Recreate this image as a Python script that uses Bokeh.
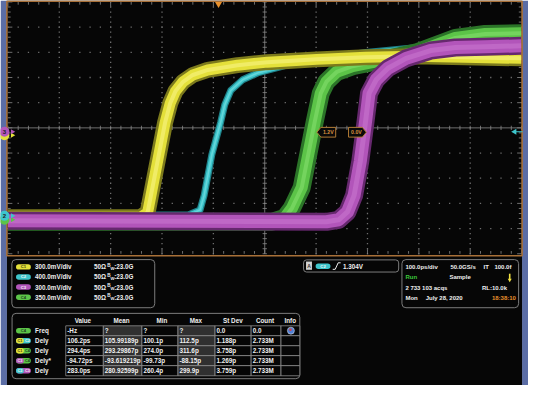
import numpy as np
from bokeh.plotting import figure
from bokeh.models import Range1d
from bokeh.core.properties import value
from bokeh.embed import file_html
from bokeh.resources import INLINE

# ---------------- waveform data (time in ps from screen centre, 100 ps/div; level in divisions) ----------------
c1_time_ps = [-500, -242, -228, -194, -184, -174, -159, -140, -111, -53, 5, 101, 197, 294, 390, 500]
c1_div = [-3.55, -3.55, -3.36, 0.21, 0.98, 1.45, 1.83, 2.10, 2.30, 2.49, 2.61, 2.72, 2.80, 2.84, 2.80, 2.76]
c2_time_ps = [-500, -149, -126, -118, -103, -86, -78, -66, -43, -14, 43, 101, 197, 313, 429, 500]
c2_div = [-3.46, -3.46, -3.26, -2.68, -1.06, 0.21, 0.91, 1.49, 1.91, 2.18, 2.49, 2.72, 2.99, 3.22, 3.42, 3.49]
c3_time_ps = [-500, 120, 144, 161, 174, 186, 196, 203, 217, 240, 275, 323, 371, 429, 500]
c3_div = [-3.69, -3.73, -3.65, -3.34, -2.68, -1.33, 0.21, 1.37, 1.91, 2.37, 2.76, 3.07, 3.19, 3.22, 3.26]
c4_time_ps = [-500, 14, 39, 53, 72, 97, 109, 120, 140, 171, 217, 294, 371, 429, 500]
c4_div = [-3.73, -3.73, -3.57, -3.19, -2.37, 0.21, 1.37, 1.83, 2.22, 2.45, 2.64, 2.99, 3.57, 3.73, 3.76]

# ---------------- readouts ----------------
channels = ["C1", "C2", "C3", "C4"]
channel_scale = ["300.0mV/div", "400.0mV/div", "300.0mV/div", "350.0mV/div"]
channel_term = ["50Ω", "50Ω", "50Ω", "50Ω"]
channel_bw = [":23.0G", ":23.0G", ":23.0G", ":23.0G"]
trigger_source = "C2"
trigger_level = "1.304V"
cursor_labels = ["1.2V", "0.0V"]
timebase_row = ["100.0ps/div", "50.0GS/s", "IT", "100.0f"]
acq_state = ["Run", "Sample"]
acq_count = ["2 733 103 acqs", "RL:10.0k"]
acq_date = ["Mon", "July 28, 2020", "18:38:10"]
meas_headers = ["Value", "Mean", "Min", "Max", "St Dev", "Count", "Info"]
meas_sources = [["C4"], ["C1", "C2"], ["C1", "C4"], ["C3", "C4"], ["C2", "C3"]]
meas_names = ["Freq", "Dely", "Dely", "Dely*", "Dely"]
meas_value = ["-Hz", "106.2ps", "294.4ps", "-94.72ps", "283.0ps"]
meas_mean = ["?", "105.99189p", "293.29867p", "-93.619219p", "280.92599p"]
meas_min = ["?", "100.1p", "274.0p", "-99.73p", "260.4p"]
meas_max = ["?", "112.5p", "311.6p", "-88.15p", "299.9p"]
meas_std = ["0.0", "1.188p", "3.758p", "1.269p", "3.759p"]
meas_count = ["0.0", "2.733M", "2.733M", "2.733M", "2.733M"]

# ---------------- styles ----------------
core = {"C1": "#e4e03a", "C2": "#3ec6cc", "C3": "#b255ba", "C4": "#5cc448"}
edge = {"C1": "#7c7a1c", "C2": "#1f8088", "C3": "#66286e", "C4": "#2b7428"}
center = {"C1": "#f0ec66", "C2": "#66d6da", "C3": "#bf68c6", "C4": "#74d45e"}
badge_text = {"C1": "#3a3a10", "C2": "#f4f4f4", "C3": "#f4f4f4", "C4": "#1e3a1e"}
FONT = value("Liberation Sans")
WHITE = "#f0f0f0"

# ---------------- layout ----------------
W, H = 528, 385
RX0, RX1, RY0, RY1 = 10.0, 544.0, 5.0, 401.0      # reference pixel window of the canvas
GX0, GX1, GY0, GY1 = 17.5, 537.0, 6.5, 265.5      # graticule within that window
ps_px = (GX1 - GX0) / 1000.0
div_px = (GY1 - GY0) / 10.0

p = figure(width=W, height=H,
           x_range=Range1d(-500 - (GX0 - RX0) / ps_px, 500 + (RX1 - GX1) / ps_px),
           y_range=Range1d(-5 - (RY1 - GY1) / div_px, 5 + (GY0 - RY0) / div_px),
           output_backend="svg", toolbar_location=None,
           x_axis_location=None, y_axis_location=None, min_border=0,
           outline_line_color=None, background_fill_color="white", border_fill_color="white")
p.grid.visible = False
p.extra_x_ranges = {"px": Range1d(RX0, RX1)}
p.extra_y_ranges = {"px": Range1d(RY1, RY0)}
PX = dict(x_range_name="px", y_range_name="px")


def txt(xs, ys, texts, color=WHITE, size=6.3, align="left", bold=True):
    p.text(x=xs, y=ys, text=texts, text_color=color, text_font=FONT,
           text_font_size=f"{size}px", text_align=align, text_baseline="middle",
           text_font_style="bold" if bold else "normal", **PX)


# background pieces
p.quad(left=[10, 537.5], right=[16.5, 544], top=[5, 5], bottom=[401, 401],
       fill_color="#5b6da5", line_color=None, **PX)
p.quad(left=[16.5], right=[537.5], top=[5], bottom=[401], fill_color="#060606", line_color=None, **PX)

# graticule dots
maj_t = np.array([t for t in range(-400, 401, 100) if t != 0])
min_t = np.arange(-500, 501, 20)
maj_v = np.array([v for v in range(-4, 5) if v != 0])
min_v = np.round(np.arange(-5, 5.001, 0.2), 3)
dot_x = np.concatenate([np.repeat(maj_t, len(min_v)), np.tile(min_t, len(maj_v))])
dot_y = np.concatenate([np.tile(min_v, len(maj_t)), np.repeat(maj_v, len(min_t))])
p.scatter(dot_x, dot_y, marker="square", size=1.3, fill_color="#6e6e6e", line_color=None)

grat = "#8a8a8a"
p.segment(x0=[-500, 0], y0=[0, -5], x1=[500, 0], y1=[0, 5], line_color=grat, line_width=0.8)
tk = 2.2
p.segment(x0=min_t, y0=-tk / div_px, x1=min_t, y1=tk / div_px, line_color=grat, line_width=0.8)
p.segment(x0=-tk / ps_px, y0=min_v, x1=tk / ps_px, y1=min_v, line_color=grat, line_width=0.8)
len_t = np.where(min_t % 100 == 0, 4.5, 2.8)
len_v = np.where(np.isclose(min_v % 1, 0) | np.isclose(min_v % 1, 1), 4.5, 2.8)
p.segment(x0=min_t, y0=5, x1=min_t, y1=5 - len_t / div_px, line_color=grat, line_width=0.8)
p.segment(x0=min_t, y0=-5, x1=min_t, y1=-5 + len_t / div_px, line_color=grat, line_width=0.8)
p.segment(x0=-500, y0=min_v, x1=-500 + len_v / ps_px, y1=min_v, line_color=grat, line_width=0.8)
p.segment(x0=500, y0=min_v, x1=500 - len_v / ps_px, y1=min_v, line_color=grat, line_width=0.8)

# waveforms (back to front)
traces = [("C2", c2_time_ps, c2_div, 7, 4.5, 1.6),
          ("C4", c4_time_ps, c4_div, 18, 12, 4),
          ("C1", c1_time_ps, c1_div, 16, 11, 4),
          ("C3", c3_time_ps, c3_div, 18, 13, 5)]
for name, t, v, w0, w1, w2 in traces:
    for col, w in ((edge[name], w0), (core[name], w1), (center[name], w2)):
        p.line(t, v, line_color=col, line_width=w, line_join="round", line_cap="butt")

# orange graticule border
p.quad(left=[16.5], right=[537.5], top=[5.6], bottom=[267.5], fill_color=None,
       line_color="#a87038", line_width=1.6, **PX)

# channel reference markers on the left
p.scatter([14, 14], [143.5, 230.5], marker="circle", size=10,
          fill_color=[core["C1"], core["C4"]], line_color=None, **PX)
p.scatter([14, 14], [140, 226.5], marker="circle", size=10,
          fill_color=[core["C3"], core["C2"]], line_color=None, **PX)
p.scatter([22, 22, 22, 22], [143.5, 140, 230.5, 226.5], marker="triangle", angle=-np.pi / 2, size=5,
          fill_color=[core["C1"], core["C3"], core["C4"], core["C2"]], line_color=None, **PX)
txt([14, 14], [140, 226.5], ["3", "2"], color="#202020", size=6, align="center")

# trigger markers
p.scatter([230.5], [8.5], marker="inverted_triangle", size=7, fill_color="#e8902c", line_color=None, **PX)
p.segment(x0=[530], y0=[140], x1=[538], y1=[140], line_color=core["C2"], line_width=1, **PX)
p.scatter([530], [140], marker="triangle", angle=np.pi / 2, size=6, fill_color=core["C2"], line_color=None, **PX)

# cursor readouts
p.patches(xs=[[330, 334, 349, 349, 334], [362, 376, 380, 376, 362]],
          ys=[[140.5, 135.5, 135.5, 145.5, 145.5], [135.5, 135.5, 140.5, 145.5, 145.5]],
          fill_color="#0a0a0a", line_color="#b07a34", line_width=1, **PX)
txt([341.5, 370], [140.5, 140.5], cursor_labels, color="#d89040", size=5.2, align="center")

# ---------------- channel panel ----------------
p.quad(left=[21.5], right=[166], top=[271.5], bottom=[321], fill_color="#060606",
       line_color="#7c7c7c", line_width=1, border_radius=4, **PX)
ch_y = [279, 289.3, 299.7, 310.2]
p.quad(left=[25.7] * 4, right=[40.7] * 4, top=[y - 2.8 for y in ch_y], bottom=[y + 2.8 for y in ch_y],
       fill_color=[core[c] for c in channels], line_color=None, border_radius=3, **PX)
for c, y in zip(channels, ch_y):
    txt([33.2], [y], [c], color=badge_text[c], size=4.2, align="center")
txt([45] * 4, ch_y, channel_scale)
txt([104.5] * 4, ch_y, channel_term)
txt([118] * 4, [y - 1.4 for y in ch_y], ["B"] * 4, size=4.6)
txt([121.2] * 4, [y + 1.6 for y in ch_y], ["W"] * 4, size=4.2)
txt([125] * 4, ch_y, channel_bw)

# ---------------- trigger panel ----------------
p.quad(left=[316.5], right=[412.7], top=[271.8], bottom=[284.3], fill_color="#060606",
       line_color="#7c7c7c", line_width=1, border_radius=3, **PX)
p.quad(left=[319], right=[325], top=[273.5], bottom=[282], fill_color="#d2d2d2", line_color=None, **PX)
txt([322], [277.8], ["A"], color="#303030", size=5, align="center")
p.quad(left=[328.7], right=[343.7], top=[275.5], bottom=[281.1], fill_color=core[trigger_source],
       line_color=None, border_radius=3, **PX)
txt([336.2], [278.3], [trigger_source], color=badge_text[trigger_source], size=4.2, align="center")
p.line([346, 348.5, 351.5, 354], [281.5, 281.5, 274.8, 274.8], line_color=WHITE, line_width=1, **PX)
txt([356.3], [278.3], [trigger_level])

# ---------------- timebase panel ----------------
p.quad(left=[416], right=[534], top=[271.5], bottom=[321], fill_color="#060606",
       line_color="#7c7c7c", line_width=1, border_radius=4, **PX)
txt([419.5, 465, 498.5, 509.5], [279] * 4, timebase_row, size=6.0)
txt([419.5], [289.5], [acq_state[0]], color="#3cc83c", size=6.0)
txt([464], [289.5], [acq_state[1]], size=6.0)
p.segment(x0=[525], y0=[286], x1=[525], y1=[291.5], line_color="#f0e040", line_width=1.6, **PX)
p.scatter([525], [292.5], marker="inverted_triangle", size=4, fill_color="#f0e040", line_color=None, **PX)
txt([419.5, 497], [300.3] * 2, acq_count, size=6.0)
txt([419.5, 440], [310.8] * 2, acq_date[:2], size=6.0)
txt([507], [310.8], [acq_date[2]], color="#e8902c", size=6.0)

# ---------------- measurement table ----------------
p.quad(left=[21.7], right=[312.7], top=[326.8], bottom=[394], fill_color="#060606",
       line_color="#7c7c7c", line_width=1, border_radius=4, **PX)
col_edges = [76, 114, 153, 189.5, 227, 263.5, 293.7, 312.7]
row_edges = [339.6, 349.8, 360.1, 370.3, 380.6, 391]
row_y = [(a + b) / 2 for a, b in zip(row_edges[:-1], row_edges[1:])]
cl, cr, ct, cb, cf = [], [], [], [], []
for i in range(len(meas_names)):
    for j in range(len(meas_headers)):
        cl.append(col_edges[j]); cr.append(col_edges[j + 1])
        ct.append(row_edges[i]); cb.append(row_edges[i + 1])
        cf.append("#303030" if j in (1, 3) else "#060606")
p.quad(left=cl, right=cr, top=ct, bottom=cb, fill_color=cf, line_color="#8e8e8e", line_width=0.8, **PX)
txt([93.3, 132.5, 173.3, 207.5, 245, 277.5, 303], [334] * 7, meas_headers, align="center")
columns = [meas_value, meas_mean, meas_min, meas_max, meas_std, meas_count]
for j, col in enumerate(columns):
    txt([col_edges[j] + 1.5] * len(col), row_y, col)
txt([45] * len(meas_names), row_y, meas_names)

# source badges
for srcs, y in zip(meas_sources, row_y):
    last = srcs[-1]
    p.quad(left=[25.7], right=[40.7], top=[y - 2.8], bottom=[y + 2.8], fill_color=core[last],
           line_color=None, border_radius=3, **PX)
    if len(srcs) == 1:
        txt([33.2], [y], [last], color=badge_text[last], size=4.2, align="center")
    else:
        first = srcs[0]
        p.quad(left=[25.7], right=[33.6], top=[y - 2.8], bottom=[y + 2.8], fill_color=core[first],
               line_color=None, border_radius=3, **PX)
        txt([29.6], [y], [first], color=badge_text[first], size=3.8, align="center")
        txt([37.2], [y], [last], color=badge_text[last], size=3.8, align="center")

# info icon
p.scatter([303.7], [344.6], marker="circle", size=7, fill_color="#4f7fd4", line_color="#d8d8d8", line_width=0.6, **PX)
p.scatter([303.2], [343.6], marker="circle", size=2.5, fill_color="#d84040", line_color=None, **PX)

open("out.html", "w").write(file_html(p, INLINE))
